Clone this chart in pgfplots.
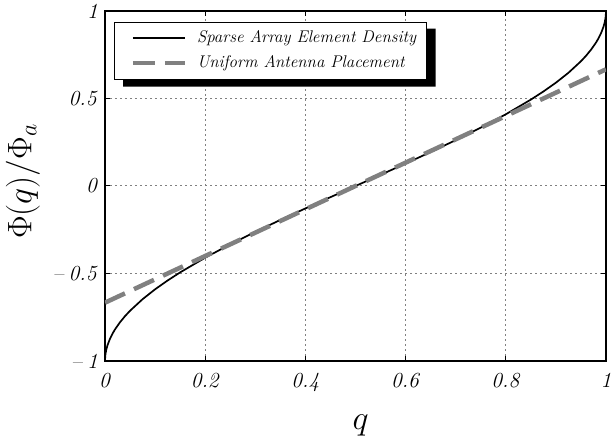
\RequirePackage{fix-cm}
\documentclass[border=0pt]{standalone}
\usepackage{pgfplots}
\pgfplotsset{compat=1.18}
\begin{document}
\begin{tikzpicture}
\begin{axis}[
  scale only axis,
  width=501pt, height=350pt,
  xmin=0, xmax=1, ymin=-1, ymax=1,
  xtick={0,0.2,0.4,0.6,0.8,1},
  xticklabels={\textit{0},\textit{0.2},\textit{0.4},\textit{0.6},\textit{0.8},\textit{1}},
  ytick={-1,-0.5,0,0.5,1},
  yticklabels={\textup{--}\hspace{4pt}\textit{1},\textup{--}\hspace{4pt}\textit{0.5},\textit{0},\textit{0.5},\textit{1}},
  tick label style={font=\fontsize{21.5}{25}\selectfont},
  xticklabel style={anchor=north, inner sep=0pt, yshift=-12pt},
  yticklabel style={anchor=east, inner sep=0pt, xshift=-7pt},
  tick align=inside,
  major tick length=5pt,
  every tick/.style={black, line width=1pt},
  axis line style={black, line width=1.3pt},
  grid=major,
  major grid style={gray, line width=1pt, dash pattern=on 2pt off 3pt},
  xlabel={$q$},
  ylabel={$\Phi(q)/\Phi_a$},
  xlabel style={font=\fontsize{34}{40}\selectfont, at={(axis description cs:0.51,-0.1543)}, anchor=north, inner sep=0pt},
  ylabel style={font=\fontsize{34}{40}\selectfont, at={(axis description cs:-0.1297,0.513)}, rotate=0, anchor=south, inner sep=0pt},
  legend cell align=left,
  legend style={name=leg, at={(axis description cs:0.018,0.9694)}, anchor=north west, draw=black, fill=white,
    line width=1pt, font=\fontsize{16.9}{20}\selectfont\itshape,
    inner xsep=10pt, inner ysep=8.5pt, row sep=10pt, column sep=10pt,
    nodes={inner sep=0pt, text height=11.5pt, text depth=3.5pt}},
  legend image code/.code={\path (0pt,0pt); \draw[#1] (6pt,0pt) -- (58pt,0pt);},
]
\coordinate (ll) at (rel axis cs:0,0);
\coordinate (ur) at (rel axis cs:1,1);
\addplot[black, line width=1.7pt] coordinates {
(0,-1) (0.0005,-0.9715) (0.001,-0.9597) (0.0025,-0.9363) (0.005,-0.9099)
(0.01,-0.8725) (0.015,-0.8437) (0.02,-0.8193) (0.03,-0.7784) (0.04,-0.7436)
(0.05,-0.7129) (0.075,-0.6468) (0.1,-0.5903) (0.125,-0.5399) (0.15,-0.4936)
(0.2,-0.4097) (0.25,-0.3333) (0.3,-0.2620) (0.35,-0.1940) (0.4,-0.1282)
(0.45,-0.0638) (0.5,0)
(0.55,0.0638) (0.6,0.1282) (0.65,0.1940) (0.7,0.2620) (0.75,0.3333)
(0.8,0.4097) (0.85,0.4936) (0.875,0.5399) (0.9,0.5903) (0.925,0.6468)
(0.95,0.7129) (0.96,0.7436) (0.97,0.7784) (0.98,0.8193) (0.985,0.8437)
(0.99,0.8725) (0.995,0.9099) (0.9975,0.9363) (0.999,0.9597) (0.9995,0.9715) (1,1)
};
\addlegendentry{Sparse Array Element Density}
\addplot[gray, line width=4.5pt, dash pattern=on 22pt off 10pt] coordinates {
(0,-0.6667) (1,0.6667)
};
\addlegendentry{Uniform Antenna Placement}
\end{axis}
\fill[black] ([xshift=9pt,yshift=-7pt]leg.north east) -- ([xshift=9pt,yshift=-7pt]leg.south east)
  -- ([xshift=9pt,yshift=-7pt]leg.south west) -- ([xshift=9pt]leg.south west)
  -- (leg.south east) -- ([yshift=-7pt]leg.north east) -- cycle;
\path (ll) ++(-105pt,-80pt);
\path (ur) ++(7pt,11pt);
\end{tikzpicture}
\end{document}
